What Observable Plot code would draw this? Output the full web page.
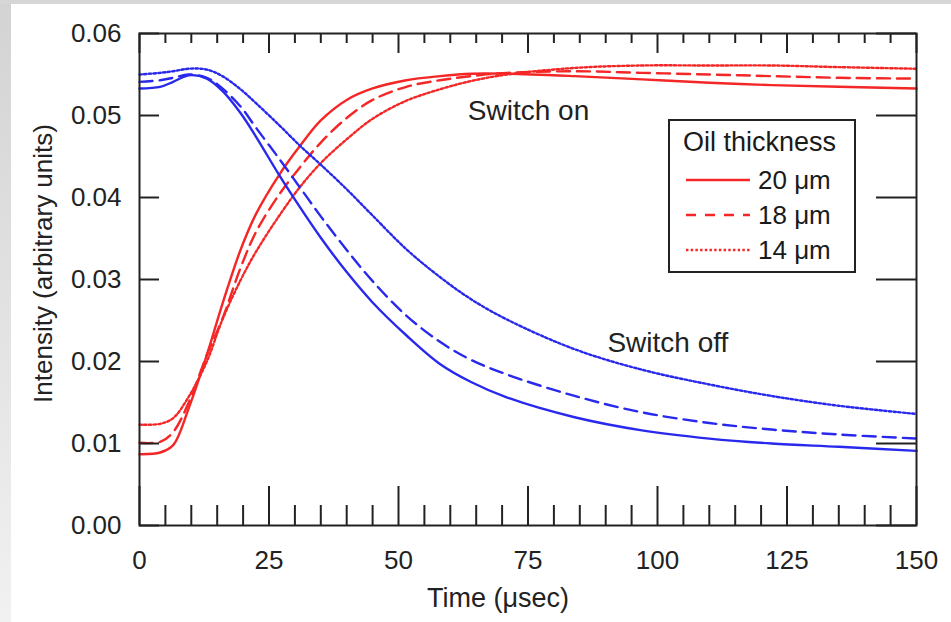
<!DOCTYPE html>
<html>
<head>
<meta charset="utf-8">
<script src="https://cdn.jsdelivr.net/npm/d3@7"></script>
<script src="https://cdn.jsdelivr.net/npm/@observablehq/plot@0.6"></script>
<style>
  html, body { margin: 0; padding: 0; }
  #page {
    position: relative; width: 951px; height: 622px; overflow: hidden;
    background: linear-gradient(to bottom, #d3d3d3, #f1f1f1);
    font-family: "Liberation Sans", Arial, sans-serif; color: #1a1a1a;
  }
  #topband { position: absolute; left: 0; top: 0; width: 951px; height: 4px; background: #d6d6d6; }
  #panel { position: absolute; left: 11px; top: 4px; width: 940px; height: 618px; background: #fff; }
  #legend {
    position: absolute; left: 668px; top: 119px; width: 184px; height: 150px;
    border: 2px solid #222; background: #fff;
  }
  #legend .title { position: absolute; left: 13px; top: 6px; font-size: 27px; white-space: nowrap; }
  #legend .row { position: absolute; left: 16px; height: 30px; display: flex; align-items: center; }
  #legend .row span { font-size: 26px; margin-left: 6px; white-space: nowrap; }
</style>
</head>
<body>
<div id="page">
  <div id="topband"></div>
  <div id="panel"></div>
  <div id="legend"></div>
</div>
<script>
// Time axis (µs) sample points shared by all traces
const time = [0, 4, 6.5, 9.5, 13, 16, 19.5, 22.5, 27, 31, 35, 40, 45, 51.5, 58, 64, 71, 84, 97, 110, 122, 135, 150];

// Switch-on intensity traces
const on20 = [0.0087, 0.0089, 0.0098, 0.0143, 0.0208, 0.0270, 0.0336, 0.0380, 0.0428, 0.0463, 0.0494, 0.0519, 0.0533, 0.0543, 0.0548, 0.0551, 0.0551, 0.0548, 0.0544, 0.0540, 0.0537, 0.0535, 0.0533];
const on18 = [0.0101, 0.0102, 0.0114, 0.0150, 0.0208, 0.0252, 0.0314, 0.0358, 0.0404, 0.0437, 0.0467, 0.0497, 0.0519, 0.0535, 0.0543, 0.0548, 0.0552, 0.0554, 0.0552, 0.0550, 0.0548, 0.0546, 0.0545];
const on14 = [0.0123, 0.0124, 0.0131, 0.0157, 0.0200, 0.0251, 0.0299, 0.0334, 0.0378, 0.0413, 0.0442, 0.0471, 0.0496, 0.0518, 0.0532, 0.0542, 0.0550, 0.0558, 0.0561, 0.0561, 0.0561, 0.0559, 0.0557];

// Switch-off intensity traces
const off20 = [0.0533, 0.0535, 0.0541, 0.0549, 0.0545, 0.0530, 0.0503, 0.0474, 0.0427, 0.0388, 0.0351, 0.0309, 0.0272, 0.0232, 0.0197, 0.0175, 0.0156, 0.0132, 0.0116, 0.0106, 0.0100, 0.0096, 0.0091];
const off18 = [0.0541, 0.0543, 0.0546, 0.0550, 0.0546, 0.0533, 0.0511, 0.0485, 0.0447, 0.0412, 0.0377, 0.0336, 0.0298, 0.0256, 0.0224, 0.0202, 0.0184, 0.0158, 0.0138, 0.0125, 0.0117, 0.0111, 0.0106];
const off14 = [0.0550, 0.0552, 0.0554, 0.0557, 0.0556, 0.0548, 0.0532, 0.0515, 0.0488, 0.0463, 0.0440, 0.0410, 0.0378, 0.0337, 0.0303, 0.0276, 0.0251, 0.0215, 0.0190, 0.0172, 0.0158, 0.0146, 0.0136];

const thickness = ["20 μm", "18 μm", "14 μm"];
const xTicks = [0, 25, 50, 75, 100, 125, 150];
const yTicks = [0, 0.01, 0.02, 0.03, 0.04, 0.05, 0.06];
const xMinor = d3.range(0, 151, 5).filter(t => t % 25 !== 0);

// Notes placed in data coordinates
const notes = [
  {text: "Switch on", t: 75.1, v: 0.0506},
  {text: "Switch off", t: 102, v: 0.0222}
];

const RED = "#f42626";
const BLUE = "#2929ee";
const INK = "#222";
const dashes = [null, "13,7", "2.4,2.3"];

const traces = [
  {ys: on20, color: RED, k: 0}, {ys: on18, color: RED, k: 1}, {ys: on14, color: RED, k: 2},
  {ys: off20, color: BLUE, k: 0}, {ys: off18, color: BLUE, k: 1}, {ys: off14, color: BLUE, k: 2}
];

const W = 940, H = 618, mL = 128, mR = 35, mT = 29, mB = 97;
const fw = W - mL - mR, fh = H - mT - mB;
const font = "Liberation Sans, Arial, sans-serif";

const lineMarks = traces.map(({ys, color, k}) =>
  Plot.line(time.map((t, i) => ({t, v: ys[i]})), {
    x: "t", y: "v", stroke: color, strokeWidth: 2.4,
    strokeDasharray: dashes[k], curve: "catmull-rom"
  })
);

const chart = Plot.plot({
  width: W, height: H,
  marginLeft: mL, marginRight: mR, marginTop: mT, marginBottom: mB,
  style: {fontFamily: font, background: "transparent", overflow: "visible"},
  x: {domain: [0, 150]},
  y: {domain: [0, 0.06]},
  marks: [
    ...lineMarks,
    // inward ticks on all four sides
    Plot.tickX(xTicks, {x: d => d, insetTop: fh - 39, stroke: INK, strokeWidth: 2}),
    Plot.tickX(xMinor, {x: d => d, insetTop: fh - 20, stroke: INK, strokeWidth: 2}),
    Plot.tickX(xTicks, {x: d => d, insetBottom: fh - 20, stroke: INK, strokeWidth: 2}),
    Plot.tickX(xMinor, {x: d => d, insetBottom: fh - 10, stroke: INK, strokeWidth: 2}),
    Plot.tickY(yTicks, {y: d => d, insetRight: fw - 20, stroke: INK, strokeWidth: 2}),
    Plot.tickY(yTicks, {y: d => d, insetLeft: fw - 40, stroke: INK, strokeWidth: 2}),
    Plot.frame({stroke: INK, strokeWidth: 2}),
    Plot.axisX({ticks: xTicks, tickSize: 0, tickPadding: 25, fontSize: 26, label: null, fill: INK}),
    Plot.axisY({ticks: yTicks, tickSize: 0, tickPadding: 18, fontSize: 26, label: null, fill: INK, tickFormat: d3.format(".2f")}),
    Plot.text(["Time (μsec)"], {frameAnchor: "bottom", dx: -30, dy: 73, fontSize: 27, fill: INK, textAnchor: "middle", lineAnchor: "middle"}),
    Plot.text(["Intensity (arbitrary units)"], {frameAnchor: "left", rotate: -90, dx: -96, dy: -16, fontSize: 26, fill: INK, textAnchor: "middle", lineAnchor: "middle"}),
    Plot.text(notes, {x: "t", y: "v", text: "text", fontSize: 28, fill: INK, lineAnchor: "middle"})
  ]
});
chart.style.position = "absolute";
chart.style.left = "11px";
chart.style.top = "4px";
document.getElementById("page").appendChild(chart);

// Legend for oil thickness
const legend = document.getElementById("legend");
const title = document.createElement("div");
title.className = "title";
title.textContent = "Oil thickness";
legend.appendChild(title);
thickness.forEach((label, k) => {
  const row = document.createElement("div");
  row.className = "row";
  row.style.top = (44 + k * 35) + "px";
  const ns = "http://www.w3.org/2000/svg";
  const svg = document.createElementNS(ns, "svg");
  svg.setAttribute("width", 66);
  svg.setAttribute("height", 10);
  const ln = document.createElementNS(ns, "line");
  ln.setAttribute("x1", 0); ln.setAttribute("x2", 64);
  ln.setAttribute("y1", 5); ln.setAttribute("y2", 5);
  ln.setAttribute("stroke", RED);
  ln.setAttribute("stroke-width", 2.4);
  if (dashes[k]) ln.setAttribute("stroke-dasharray", k === 1 ? "10,9" : dashes[k]);
  svg.appendChild(ln);
  const txt = document.createElement("span");
  txt.textContent = label;
  row.appendChild(svg);
  row.appendChild(txt);
  legend.appendChild(row);
});
</script>
</body>
</html>
